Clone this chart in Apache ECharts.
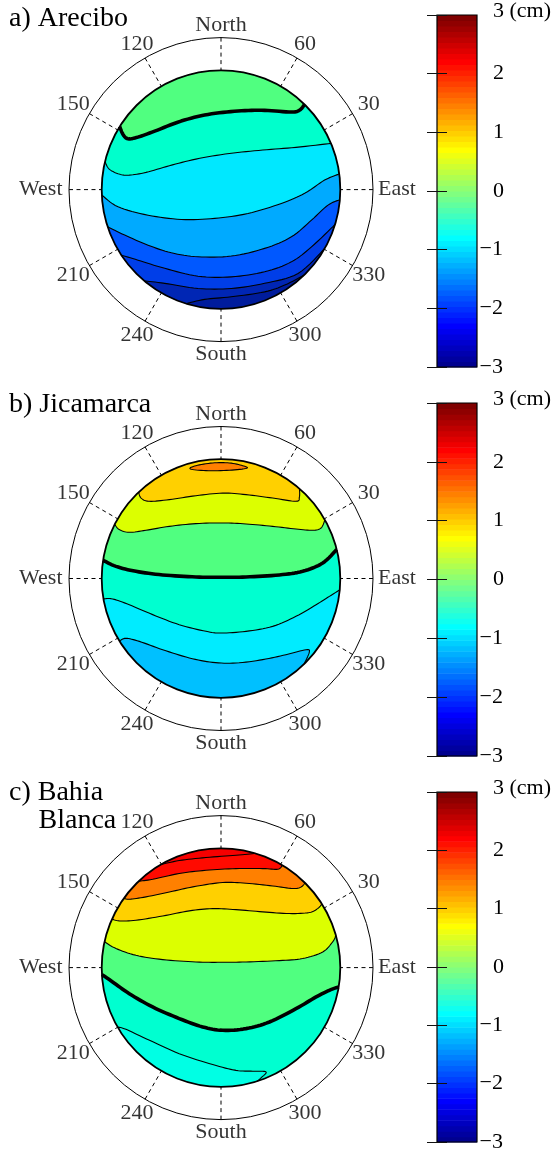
<!DOCTYPE html>
<html>
<head>
<meta charset="utf-8">
<script src="https://cdn.jsdelivr.net/npm/echarts@6/dist/echarts.min.js"></script>
<style>
html,body{margin:0;padding:0;background:#fff;}
#chart{width:556px;height:1153px;}
</style>
</head>
<body>
<div id="chart"></div>
<script>
// ---------------- data ----------------
const panelTitles = ['a) Arecibo', 'b) Jicamarca', 'c) Bahia'];
const panelSubtitles = ['', '', 'Blanca'];
const angleTicks = [0, 30, 60, 90, 120, 150, 180, 210, 240, 270, 300, 330];
const angleTickLabels = ['East', '30', '60', 'North', '120', '150', 'West', '210', '240', 'South', '300', '330'];
const colorbarTicks = [-3, -2, -1, 0, 1, 2, 3];
const colorbarMin = -3, colorbarMax = 3;
const discRadius = 70;   // zenith angle at the edge of the filled disc
const outerRadius = 90;  // zenith angle of the outer ring

// contour lines, points [x, y] in zenith-angle units, listed from the lowest level up
const areciboLevels = [-3, -2.5, -2, -1.5, -1, -0.5, 0];
const areciboLines = [
  [[-20.4,-66.8],[-9.6,-64.4],[6.0,-62.9],[25.6,-60.0],[37.4,-56.0],[48.1,-49.6]],
  [[-44.8,-53.1],[-33.0,-55.0],[-13.5,-58.0],[6.0,-58.0],[25.6,-55.0],[45.2,-49.2],[60.9,-34.5]],
  [[-58.5,-38.4],[-48.7,-41.4],[-33.0,-46.2],[-13.5,-50.8],[6.0,-51.2],[25.6,-48.2],[41.3,-42.4],[53.1,-33.6],[64.7,-19.8]],
  [[-66.3,-21.8],[-56.5,-26.7],[-42.8,-32.6],[-29.1,-37.1],[-13.5,-39.4],[6.0,-39.0],[25.6,-34.5],[41.3,-27.7],[53.1,-17.9],[62.8,-9.1],[68.7,-5.8]],
  [[-69.8,-3.2],[-60.4,-10.1],[-42.8,-15.0],[-23.3,-17.5],[-3.7,-16.9],[15.8,-14.0],[35.4,-8.1],[49.1,-2.2],[60.8,5.6],[68.7,9.1]],
  [[-68.5,16.5],[-65.6,12.0],[-59.7,9.1],[-53.8,8.5],[-44.0,10.1],[-30.3,14.0],[-14.7,17.9],[4.9,21.2],[24.5,23.2],[44.0,24.8],[63.6,26.7]],
  [[-60.0,37.3],[-57.5,32.4],[-54.6,29.8],[-48.7,30.8],[-38.9,34.3],[-23.4,40.2],[-7.6,44.1],[10.0,46.1],[25.6,46.5],[41.3,45.5],[46.2,46.7],[49.1,50.0]]
];
const areciboColors = ['#001C9C','#0026B4','#003EE8','#0058FF','#00AAFF','#00E8FF','#00FFCC','#50FF80'];

const jicamarcaLevels = [-1, -0.5, 0, 0.5, 1];
const jicamarcaLines = [
  [[-59.3,-36.5],[-55.8,-35.1],[-47.9,-36.9],[-34.2,-41.8],[-18.6,-46.6],[-4.9,-49.2],[8.8,-49.6],[24.5,-47.6],[38.1,-44.7],[49.9,-41.8],[51.8,-43.3],[49.5,-51.1]],
  [[-69.1,-12.0],[-63.6,-12.0],[-53.8,-15.4],[-40.1,-21.2],[-24.5,-27.1],[-8.8,-31.0],[0,-32.0],[14.7,-31.0],[30.3,-28.1],[44.0,-22.2],[55.8,-15.4],[63.6,-10.5],[69.1,-6.6]],
  [[-69.4,10.7],[-61.6,7.1],[-49.9,4.2],[-34.2,2.1],[-14.7,0.9],[0,0.7],[14.7,0.9],[34.2,2.1],[47.9,4.2],[59.7,9.1],[67.5,16.9]],
  [[-62.0,31.6],[-59.7,28.7],[-53.8,27.1],[-44.0,28.3],[-30.3,30.6],[-14.7,32.2],[1.0,32.6],[14.7,32.0],[30.3,30.6],[44.0,29.0],[53.8,28.3],[58.7,29.6],[61.2,34.5]],
  [[-48.3,50.6],[-46.9,47.2],[-42.1,45.3],[-30.3,46.3],[-14.7,48.6],[1.0,50.1],[14.7,49.2],[30.3,47.2],[44.0,45.3],[46.0,47.8],[46.4,53.1]]
];
const jicamarcaColors = ['#00C0FF','#00ECFF','#00FFD0','#50FF80','#DCFF00','#FFD000'];
const jicamarcaPatchLevel = 1.5;
const jicamarcaPatch = [[-18.0,64.3],[-14.7,66.2],[-4.9,67.8],[4.9,67.8],[12.7,66.2],[15.1,64.7],[4.9,63.5],[-8.8,63.3]];
const jicamarcaPatchColor = '#FF8000';

const bahiaLevels = [-0.5, 0, 0.5, 1, 1.5, 2, 2.5];
const bahiaLines = [
  [[-60.6,-34.8],[-55.8,-36.2],[-44.0,-41.7],[-24.5,-50.5],[-4.9,-56.9],[8.8,-60.3],[18.6,-60.8],[26.4,-61.2],[23.5,-64.7],[21.5,-67.5]],
  [[-69.8,-4.1],[-63.6,-8.4],[-53.8,-15.3],[-40.1,-23.1],[-24.5,-29.9],[-10.8,-34.8],[1.0,-36.8],[14.7,-35.8],[28.4,-31.9],[44.0,-24.1],[55.8,-17.2],[63.6,-13.3],[69.1,-11.3]],
  [[-68.1,15.1],[-61.6,11.2],[-49.9,7.2],[-34.2,4.7],[-14.7,3.3],[0,3.1],[14.7,3.3],[34.2,4.1],[47.9,5.3],[59.7,9.2],[65.5,15.1],[67.9,19.0]],
  [[-63.6,28.4],[-59.7,27.4],[-49.9,27.8],[-34.2,30.3],[-18.6,33.3],[-4.9,34.6],[8.8,34.0],[24.5,32.7],[40.1,31.7],[51.8,32.3],[56.7,34.6],[59.7,37.6]],
  [[-57.7,41.3],[-53.8,40.1],[-44.0,41.5],[-28.4,44.8],[-14.7,47.7],[1.0,49.9],[14.7,49.5],[30.3,47.9],[42.1,46.4],[47.0,47.3],[48.9,49.3]],
  [[-47.9,50.3],[-40.1,51.8],[-24.5,55.2],[-8.8,57.1],[8.8,58.1],[24.5,58.1],[33.3,57.7],[35.8,59.7]],
  [[-35.2,60.4],[-24.5,62.8],[-8.8,64.6],[8.8,65.9],[20.1,66.7]]
];
const bahiaColors = ['#00FFE4','#00FFD0','#50FF80','#DCFF00','#FFD000','#FF8000','#FF0A00','#F50000'];

// ---------------- layout / style ----------------
const FONT = 'Liberation Serif';
const CX = 221;
const CY = [189.6, 578.5, 967.6];
const DISC_PX = 119.3, OUTER_PX = 152;
const CB_LEFT = 437, CB_W = 40, CB_TOP = [14, 403, 792], CB_H = 353;
const TITLE_TOP = [4.5, 391, 778.5];
const SUB_TOP = 806.5;

const panels = [
  {lines: areciboLines, levels: areciboLevels, colors: areciboColors, patch: null},
  {lines: jicamarcaLines, levels: jicamarcaLevels, colors: jicamarcaColors, patch: jicamarcaPatch, patchColor: jicamarcaPatchColor},
  {lines: bahiaLines, levels: bahiaLevels, colors: bahiaColors, patch: null}
];

function smoothPath(pts, closed) {
  const n = pts.length, out = [], steps = 8;
  const get = i => closed ? pts[(i + n) % n] : pts[Math.max(0, Math.min(n - 1, i))];
  const segs = closed ? n : n - 1;
  for (let i = 0; i < segs; i++) {
    const p0 = get(i - 1), p1 = get(i), p2 = get(i + 1), p3 = get(i + 2);
    for (let s = 0; s < steps; s++) {
      const t = s / steps, t2 = t * t, t3 = t2 * t;
      out.push([0, 1].map(k => 0.5 * (2 * p1[k] + (-p0[k] + p2[k]) * t +
        (2 * p0[k] - 5 * p1[k] + 4 * p2[k] - p3[k]) * t2 +
        (-p0[k] + 3 * p1[k] - 3 * p2[k] + p3[k]) * t3)));
    }
  }
  if (!closed) out.push(pts[n - 1]);
  return out;
}

function discRenderer(panel) {
  const nL = panel.lines.length;
  return function (params, api) {
    const i = params.dataIndex;
    const c = api.coord([0, 0]);
    const R = Math.abs(api.coord([discRadius, 0])[0] - c[0]);
    if (i === 0) {
      return {type: 'circle', shape: {cx: c[0], cy: c[1], r: R}, style: {fill: panel.colors[0]}, z2: 1};
    }
    if (i <= nL) {
      const raw = panel.lines[i - 1].map(p => api.coord(p));
      const proj = p => { const dx = p[0] - c[0], dy = p[1] - c[1], d = Math.hypot(dx, dy); return [c[0] + dx / d * R, c[1] + dy / d * R]; };
      raw[0] = proj(raw[0]);
      raw[raw.length - 1] = proj(raw[raw.length - 1]);
      const line = smoothPath(raw, false);
      const ang = p => Math.atan2(-(p[1] - c[1]), p[0] - c[0]);
      const a0 = ang(line[line.length - 1]);
      let a1 = ang(line[0]);
      while (a1 <= a0) a1 += 2 * Math.PI;
      const n = Math.max(2, Math.ceil((a1 - a0) / 0.01));
      const arc = [];
      for (let k = 1; k < n; k++) {
        const a = a0 + (a1 - a0) * k / n;
        arc.push([c[0] + R * Math.cos(a), c[1] - R * Math.sin(a)]);
      }
      const thick = panel.levels[i - 1] === 0;
      return {type: 'group', children: [
        {type: 'polygon', shape: {points: line.concat(arc)}, style: {fill: panel.colors[i]}, z2: 2 + i},
        {type: 'polyline', shape: {points: line}, style: {stroke: '#000', fill: 'none', lineWidth: thick ? 3.6 : 1.1, lineJoin: 'round'}, z2: thick ? 101 : 100}
      ]};
    }
    if (panel.patch && i === nL + 1) {
      const pts = smoothPath(panel.patch.map(p => api.coord(p)), true);
      return {type: 'group', children: [
        {type: 'polygon', shape: {points: pts}, style: {fill: panel.patchColor}, z2: 60},
        {type: 'polygon', shape: {points: pts}, style: {stroke: '#000', fill: 'none', lineWidth: 1.1}, z2: 100}
      ]};
    }
    return {type: 'circle', shape: {cx: c[0], cy: c[1], r: R}, style: {fill: 'none', stroke: '#000', lineWidth: 1.8}, z2: 200};
  };
}

function jetColor(k) { // MATLAB jet(64), k = 1..64
  const u = j => (j < 1 || j > 47) ? 0 : (j <= 16 ? j / 16 : (j <= 31 ? 1 : (48 - j) / 16));
  const f = v => Math.round(v * 255);
  return 'rgb(' + f(u(k - 24)) + ',' + f(u(k - 8)) + ',' + f(u(k + 8)) + ')';
}

function colorbarRenderer(params, api) {
  const steps = 64, children = [];
  for (let k = 0; k < steps; k++) {
    const lo = colorbarMin + (colorbarMax - colorbarMin) * k / steps;
    const hi = lo + (colorbarMax - colorbarMin) / steps;
    const p1 = api.coord([0, hi]), p2 = api.coord([1, lo]);
    children.push({type: 'rect', shape: {x: p1[0], y: p1[1], width: p2[0] - p1[0], height: p2[1] - p1[1] + 0.6}, style: {fill: jetColor(k + 1)}, z2: 1});
  }
  const t = api.coord([0, colorbarMax]), b = api.coord([1, colorbarMin]);
  children.push({type: 'rect', shape: {x: t[0], y: t[1], width: b[0] - t[0], height: b[1] - t[1]}, style: {fill: 'none', stroke: '#000', lineWidth: 1.2}, z2: 10});
  return {type: 'group', children};
}

const textBase = {fontFamily: FONT, fontSize: 22, color: '#000'};

const option = {
  backgroundColor: '#fff',
  animation: false,
  title: [], polar: [], angleAxis: [], radiusAxis: [], grid: [], xAxis: [], yAxis: [], series: []
};

panels.forEach((panel, p) => {
  option.title.push({text: panelTitles[p], left: 9, top: TITLE_TOP[p], padding: 0,
    textStyle: {fontFamily: FONT, fontSize: 28, fontWeight: 'normal', color: '#000'}});
  if (panelSubtitles[p]) {
    option.title.push({text: panelSubtitles[p], left: 38.5, top: SUB_TOP, padding: 0,
      textStyle: {fontFamily: FONT, fontSize: 28, fontWeight: 'normal', color: '#000'}});
  }
  // polar ring
  option.polar.push({center: [CX, CY[p]], radius: OUTER_PX});
  option.angleAxis.push({polarIndex: p, type: 'value', min: 0, max: 360, interval: 30, startAngle: 0, clockwise: false,
    axisLine: {show: true, lineStyle: {color: '#000', width: 1}}, axisTick: {show: false}, axisLabel: {show: false},
    splitLine: {show: true, lineStyle: {color: '#000', width: 1, type: [4, 3.5]}}});
  option.radiusAxis.push({polarIndex: p, type: 'value', min: 0, max: outerRadius, show: false,
    axisLine: {show: false}, splitLine: {show: false}, axisLabel: {show: false}, axisTick: {show: false}});
  // grids
  option.grid.push({left: CX - DISC_PX, top: CY[p] - DISC_PX, width: 2 * DISC_PX, height: 2 * DISC_PX, containLabel: false});
  option.grid.push({left: CB_LEFT, top: CB_TOP[p], width: CB_W, height: CB_H, containLabel: false});
  const gD = 2 * p, gC = 2 * p + 1;
  option.xAxis.push({gridIndex: gD, type: 'value', min: -discRadius, max: discRadius, show: false});
  option.xAxis.push({gridIndex: gC, type: 'value', min: 0, max: 1, show: false});
  const yBase = option.yAxis.length;
  option.yAxis.push({gridIndex: gD, type: 'value', min: -discRadius, max: discRadius, show: false});
  option.yAxis.push({gridIndex: gC, type: 'value', position: 'right', min: colorbarMin, max: colorbarMax, interval: 1, z: 5,
    axisLine: {show: false}, splitLine: {show: false},
    axisTick: {show: true, inside: true, length: 10, lineStyle: {color: '#111', width: 1}},
    axisLabel: Object.assign({}, textBase, {align: 'left', margin: 16,
      formatter: v => v === colorbarMax ? '{top|' + v + ' (cm)}' : (v >= 0 ? String(v) : ''),
      rich: {top: Object.assign({}, textBase, {padding: [0, 0, 8, 0]})}})});
  option.yAxis.push({gridIndex: gC, type: 'value', position: 'left', min: colorbarMin, max: colorbarMax, interval: 1, z: 5,
    axisLine: {show: false}, splitLine: {show: false}, axisLabel: {show: false},
    axisTick: {show: true, inside: true, length: 10, lineStyle: {color: '#111', width: 1}}});
  option.yAxis.push({gridIndex: gC, type: 'value', position: 'right', min: colorbarMin, max: colorbarMax, interval: 1, z: 5,
    axisLine: {show: false}, splitLine: {show: false}, axisTick: {show: false},
    axisLabel: Object.assign({}, textBase, {align: 'right', margin: 26,
      formatter: v => v < 0 ? '\u2212' + (-v) : ''})});

  // contour disc
  const nItems = 1 + panel.lines.length + (panel.patch ? 1 : 0) + 1;
  option.series.push({type: 'custom', xAxisIndex: gD, yAxisIndex: yBase, silent: true,
    renderItem: discRenderer(panel), data: Array.from({length: nItems}, () => [0, 0])});
  // colorbar
  option.series.push({type: 'custom', xAxisIndex: gC, yAxisIndex: yBase + 1, silent: true,
    renderItem: colorbarRenderer, data: [[0, 0]]});
  // angle labels
  option.series.push({type: 'scatter', coordinateSystem: 'polar', polarIndex: p, silent: true, clip: false,
    symbolSize: 1, itemStyle: {color: 'rgba(0,0,0,0)'},
    data: angleTicks.map((a, k) => {
      if (a === 0) return {value: [outerRadius, a], label: {position: 'right', distance: 4.5}};
      if (a === 180) return {value: [outerRadius, a], label: {position: 'left', distance: 6}};
      const r = 97.5 + 4 * Math.abs(Math.cos(a * Math.PI / 180));
      return {value: [r, a], label: {position: 'inside'}};
    }),
    label: Object.assign({}, textBase, {show: true, formatter: prm => angleTickLabels[prm.dataIndex]})});
});

const chart = echarts.init(document.getElementById('chart'), null, {renderer: 'canvas'});
chart.setOption(option);
</script>
</body>
</html>
